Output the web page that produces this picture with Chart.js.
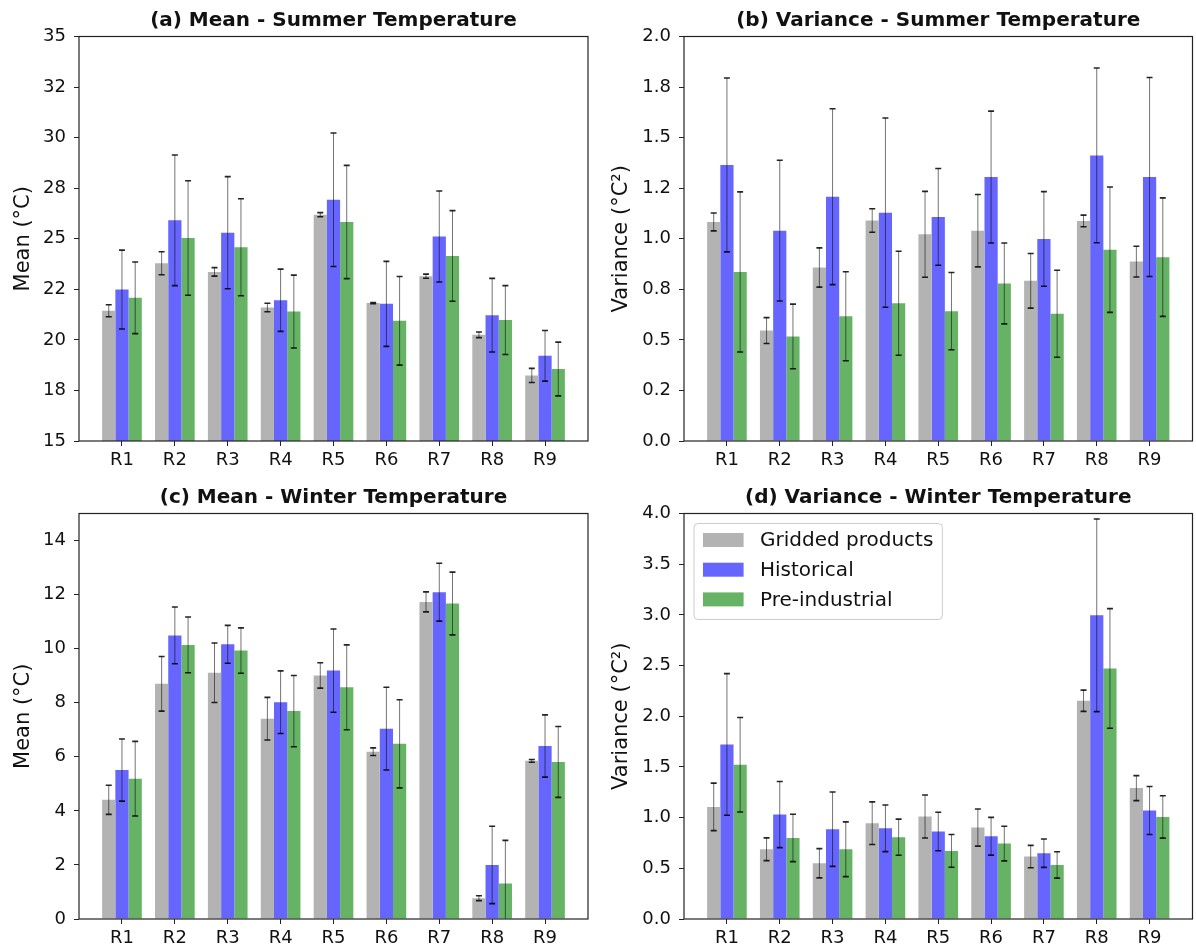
<!DOCTYPE html>
<html>
<head>
<meta charset="utf-8">
<title>Regional temperature statistics</title>
<script src="https://cdn.jsdelivr.net/npm/chart.js@4.4.1/dist/chart.umd.min.js"></script>
<style>
  html, body { margin: 0; padding: 0; background: #fff; }
  #figure { position: relative; width: 1196px; height: 952px; overflow: hidden; background: #fff; }
  #figure canvas { position: absolute; }
</style>
</head>
<body>
<div id="figure">
  <canvas id="panelA" width="598" height="476" style="left:0px;top:0px"></canvas>
  <canvas id="panelB" width="598" height="476" style="left:598px;top:0px"></canvas>
  <canvas id="panelC" width="598" height="475" style="left:0px;top:477px"></canvas>
  <canvas id="panelD" width="598" height="475" style="left:598px;top:477px"></canvas>
</div>
<script>
// ---- categories and series names ----
const regions = ['R1', 'R2', 'R3', 'R4', 'R5', 'R6', 'R7', 'R8', 'R9'];
const seriesNames = ['Gridded products', 'Historical', 'Pre-industrial'];

// ---- (a) mean summer temperature (°C) ----
const summerMeanGridded          = [21.44, 23.79, 23.36, 21.60, 26.19, 21.82, 23.15, 20.25, 18.24];
const summerMeanGriddedErr       = [0.30, 0.57, 0.21, 0.21, 0.10, 0.03, 0.10, 0.14, 0.35];
const summerMeanHistorical       = [22.49, 25.91, 25.30, 21.96, 26.93, 21.78, 25.11, 21.22, 19.21];
const summerMeanHistoricalErr    = [1.95, 3.23, 2.77, 1.54, 3.30, 2.10, 2.25, 1.82, 1.25];
const summerMeanPreindustrial    = [22.08, 25.04, 24.58, 21.40, 25.83, 20.94, 24.15, 20.98, 18.56];
const summerMeanPreindustrialErr = [1.77, 2.83, 2.40, 1.80, 2.80, 2.19, 2.24, 1.70, 1.33];

// ---- (b) variance of summer temperature (°C²) ----
const summerVarGridded          = [1.083, 0.546, 0.858, 1.090, 1.022, 1.040, 0.792, 1.088, 0.887];
const summerVarGriddedErr       = [0.044, 0.064, 0.097, 0.058, 0.212, 0.179, 0.135, 0.029, 0.076];
const summerVarHistorical       = [1.365, 1.040, 1.208, 1.129, 1.108, 1.305, 0.999, 1.412, 1.305];
const summerVarHistoricalErr    = [0.430, 0.348, 0.435, 0.468, 0.239, 0.326, 0.234, 0.432, 0.492];
const summerVarPreindustrial    = [0.836, 0.517, 0.617, 0.681, 0.642, 0.779, 0.629, 0.946, 0.909];
const summerVarPreindustrialErr = [0.396, 0.160, 0.220, 0.257, 0.191, 0.200, 0.215, 0.310, 0.293];

// ---- (c) mean winter temperature (°C) ----
const winterMeanGridded          = [4.41, 8.70, 9.11, 7.41, 9.01, 6.19, 11.73, 0.77, 5.85];
const winterMeanGriddedErr       = [0.54, 1.01, 1.10, 0.79, 0.47, 0.14, 0.37, 0.09, 0.05];
const winterMeanHistorical       = [5.51, 10.49, 10.16, 8.02, 9.19, 7.04, 12.09, 2.00, 6.40];
const winterMeanHistoricalErr    = [1.15, 1.05, 0.70, 1.16, 1.54, 1.53, 1.07, 1.43, 1.15];
const winterMeanPreindustrial    = [5.19, 10.14, 9.93, 7.69, 8.57, 6.48, 11.67, 1.31, 5.81];
const winterMeanPreindustrialErr = [1.38, 1.03, 0.84, 1.32, 1.57, 1.63, 1.16, 1.60, 1.31];

// ---- (d) variance of winter temperature (°C²) ----
const winterVarGridded          = [1.106, 0.688, 0.550, 0.945, 1.011, 0.902, 0.616, 2.153, 1.291];
const winterVarGriddedErr       = [0.234, 0.112, 0.144, 0.210, 0.212, 0.183, 0.110, 0.105, 0.123];
const winterVarHistorical       = [1.722, 1.030, 0.886, 0.895, 0.863, 0.816, 0.649, 2.996, 1.070];
const winterVarHistoricalErr    = [0.698, 0.326, 0.367, 0.230, 0.190, 0.186, 0.140, 0.950, 0.237];
const winterVarPreindustrial    = [1.521, 0.800, 0.688, 0.807, 0.672, 0.744, 0.533, 2.472, 1.007];
const winterVarPreindustrialErr = [0.466, 0.234, 0.270, 0.178, 0.161, 0.171, 0.130, 0.590, 0.209];

// ---- y tick positions and their printed labels ----
const summerMeanTickValues = [15, 17.5, 20, 22.5, 25, 27.5, 30, 32.5, 35];
const summerMeanTickLabels = ['15', '18', '20', '22', '25', '28', '30', '32', '35'];
const summerVarTickValues  = [0, 0.25, 0.5, 0.75, 1, 1.25, 1.5, 1.75, 2];
const summerVarTickLabels  = ['0.0', '0.2', '0.5', '0.8', '1.0', '1.2', '1.5', '1.8', '2.0'];
const winterMeanTickValues = [0, 2, 4, 6, 8, 10, 12, 14];
const winterMeanTickLabels = ['0', '2', '4', '6', '8', '10', '12', '14'];
const winterVarTickValues  = [0, 0.5, 1, 1.5, 2, 2.5, 3, 3.5, 4];
const winterVarTickLabels  = ['0.0', '0.5', '1.0', '1.5', '2.0', '2.5', '3.0', '3.5', '4.0'];

// ---- styling ----
const FONT = "'DejaVu Sans', 'Liberation Sans', sans-serif";
const seriesColors = ['#b3b3b3', '#6666ff', '#66b366'];
const INK = '#111111';

// Vertical error bars with caps, positioned from each bar element and the y scale.
const errorBarsPlugin = {
  id: 'errorBars',
  afterDatasetsDraw(chart, args, opts) {
    const { ctx, chartArea } = chart;
    const yScale = chart.scales.y;
    ctx.save();
    ctx.beginPath();
    ctx.rect(chartArea.left, chartArea.top, chartArea.right - chartArea.left, chartArea.bottom - chartArea.top);
    ctx.clip();
    chart.data.datasets.forEach((ds, di) => {
      const meta = chart.getDatasetMeta(di);
      meta.data.forEach((bar, i) => {
        const v = ds.data[i].y;
        const e = ds.errors[i];
        const yHi = yScale.getPixelForValue(v + e);
        const yLo = yScale.getPixelForValue(v - e);
        const x = bar.x;
        ctx.strokeStyle = opts.lineColor;
        ctx.lineWidth = opts.lineWidth;
        ctx.beginPath();
        ctx.moveTo(x, yHi);
        ctx.lineTo(x, yLo);
        ctx.stroke();
        ctx.strokeStyle = opts.capColor;
        ctx.lineWidth = opts.capWidth;
        ctx.beginPath();
        ctx.moveTo(x - opts.capHalf, yHi); ctx.lineTo(x + opts.capHalf, yHi);
        ctx.moveTo(x - opts.capHalf, yLo); ctx.lineTo(x + opts.capHalf, yLo);
        ctx.stroke();
      });
    });
    ctx.restore();
  }
};

// Closed rectangle around the plotting area.
const axesFramePlugin = {
  id: 'axesFrame',
  afterDraw(chart) {
    const { ctx, chartArea } = chart;
    ctx.save();
    ctx.strokeStyle = '#222222';
    ctx.lineWidth = 1.2;
    ctx.strokeRect(chartArea.left, chartArea.top, chartArea.right - chartArea.left, chartArea.bottom - chartArea.top);
    ctx.restore();
  }
};

// Framed legend in the upper-left corner of the plotting area.
const boxLegendPlugin = {
  id: 'boxLegend',
  afterDraw(chart, args, opts) {
    if (!opts.display) return;
    const { ctx, chartArea } = chart;
    ctx.save();
    ctx.font = `20px ${FONT}`;
    const items = chart.data.datasets.map(ds => ({ text: ds.label, color: ds.backgroundColor }));
    const maxW = Math.max(...items.map(it => ctx.measureText(it.text).width));
    const x0 = chartArea.left + 10;
    const y0 = chartArea.top + 10;
    const w = 66 + maxW + 9;
    const h = 96;
    ctx.fillStyle = 'rgba(255,255,255,0.8)';
    ctx.strokeStyle = '#cccccc';
    ctx.lineWidth = 1;
    ctx.beginPath();
    ctx.roundRect(x0, y0, w, h, 4);
    ctx.fill();
    ctx.stroke();
    items.forEach((it, k) => {
      const cy = y0 + 16.5 + k * 29.7;
      ctx.fillStyle = it.color;
      ctx.fillRect(x0 + 9, cy - 7, 40.6, 14);
      ctx.fillStyle = INK;
      ctx.textBaseline = 'middle';
      ctx.textAlign = 'left';
      ctx.fillText(it.text, x0 + 66, cy + 1);
    });
    ctx.restore();
  }
};

function buildPanel(canvasId, spec) {
  const datasets = spec.series.map((vals, k) => ({
    label: seriesNames[k],
    data: vals.map((v, i) => ({ x: i, y: v })),
    errors: spec.errors[k],
    backgroundColor: seriesColors[k],
    borderWidth: 0,
    categoryPercentage: 0.75,
    barPercentage: 1.0
  }));
  const tickGrid = {
    display: true, drawOnChartArea: false, drawTicks: true,
    tickLength: 5, tickWidth: 1, color: '#222222', offset: false
  };
  return new Chart(document.getElementById(canvasId), {
    type: 'bar',
    data: { datasets },
    options: {
      responsive: false,
      animation: false,
      devicePixelRatio: 1,
      layout: { padding: { left: 0, right: spec.padRight, top: 0, bottom: 0 } },
      scales: {
        x: {
          type: 'linear', min: -0.8125, max: 8.8125, offset: false,
          afterBuildTicks: axis => { axis.ticks = regions.map((_, i) => ({ value: i })); },
          afterFit: s => { s.height = spec.xAxisHeight; },
          grid: tickGrid,
          border: { display: false },
          ticks: {
            autoSkip: false, maxRotation: 0, minRotation: 0, padding: 4, color: INK,
            font: { family: FONT, size: 18 },
            callback: v => regions[v]
          }
        },
        y: {
          type: 'linear', min: spec.yMin, max: spec.yMax,
          afterBuildTicks: axis => { axis.ticks = spec.tickValues.map(v => ({ value: v })); },
          afterFit: s => { s.width = spec.yAxisWidth; },
          grid: tickGrid,
          border: { display: false },
          ticks: {
            padding: 8, color: INK,
            font: { family: FONT, size: 18 },
            callback: (v, i) => spec.tickLabels[i]
          },
          title: {
            display: true, text: spec.yTitle, color: INK,
            font: { family: FONT, size: 21 },
            padding: { top: 10.5, bottom: 0 }
          }
        }
      },
      plugins: {
        legend: { display: false },
        tooltip: { enabled: false },
        title: {
          display: true, text: spec.title, color: INK, fullSize: false,
          font: { family: FONT, size: 20, weight: 'bold' },
          padding: { top: 8.5, bottom: 4 }
        },
        errorBars: { lineColor: 'rgba(0,0,0,0.55)', lineWidth: 1, capColor: 'rgba(0,0,0,0.85)', capWidth: 1.6, capHalf: 3 },
        boxLegend: { display: !!spec.showLegend }
      }
    },
    plugins: [errorBarsPlugin, axesFramePlugin, boxLegendPlugin]
  });
}

buildPanel('panelA', {
  title: '(a) Mean - Summer Temperature',
  yTitle: 'Mean (°C)',
  series: [summerMeanGridded, summerMeanHistorical, summerMeanPreindustrial],
  errors: [summerMeanGriddedErr, summerMeanHistoricalErr, summerMeanPreindustrialErr],
  yMin: 15, yMax: 35,
  tickValues: summerMeanTickValues, tickLabels: summerMeanTickLabels,
  yAxisWidth: 79, padRight: 10, xAxisHeight: 35
});

buildPanel('panelB', {
  title: '(b) Variance - Summer Temperature',
  yTitle: 'Variance (°C²)',
  series: [summerVarGridded, summerVarHistorical, summerVarPreindustrial],
  errors: [summerVarGriddedErr, summerVarHistoricalErr, summerVarPreindustrialErr],
  yMin: 0, yMax: 2,
  tickValues: summerVarTickValues, tickLabels: summerVarTickLabels,
  yAxisWidth: 86, padRight: 3.5, xAxisHeight: 35
});

buildPanel('panelC', {
  title: '(c) Mean - Winter Temperature',
  yTitle: 'Mean (°C)',
  series: [winterMeanGridded, winterMeanHistorical, winterMeanPreindustrial],
  errors: [winterMeanGriddedErr, winterMeanHistoricalErr, winterMeanPreindustrialErr],
  yMin: 0, yMax: 15,
  tickValues: winterMeanTickValues, tickLabels: winterMeanTickLabels,
  yAxisWidth: 79, padRight: 10, xAxisHeight: 33
});

buildPanel('panelD', {
  title: '(d) Variance - Winter Temperature',
  yTitle: 'Variance (°C²)',
  series: [winterVarGridded, winterVarHistorical, winterVarPreindustrial],
  errors: [winterVarGriddedErr, winterVarHistoricalErr, winterVarPreindustrialErr],
  yMin: 0, yMax: 4,
  tickValues: winterVarTickValues, tickLabels: winterVarTickLabels,
  yAxisWidth: 86, padRight: 3.5, xAxisHeight: 33,
  showLegend: true
});
</script>
</body>
</html>
